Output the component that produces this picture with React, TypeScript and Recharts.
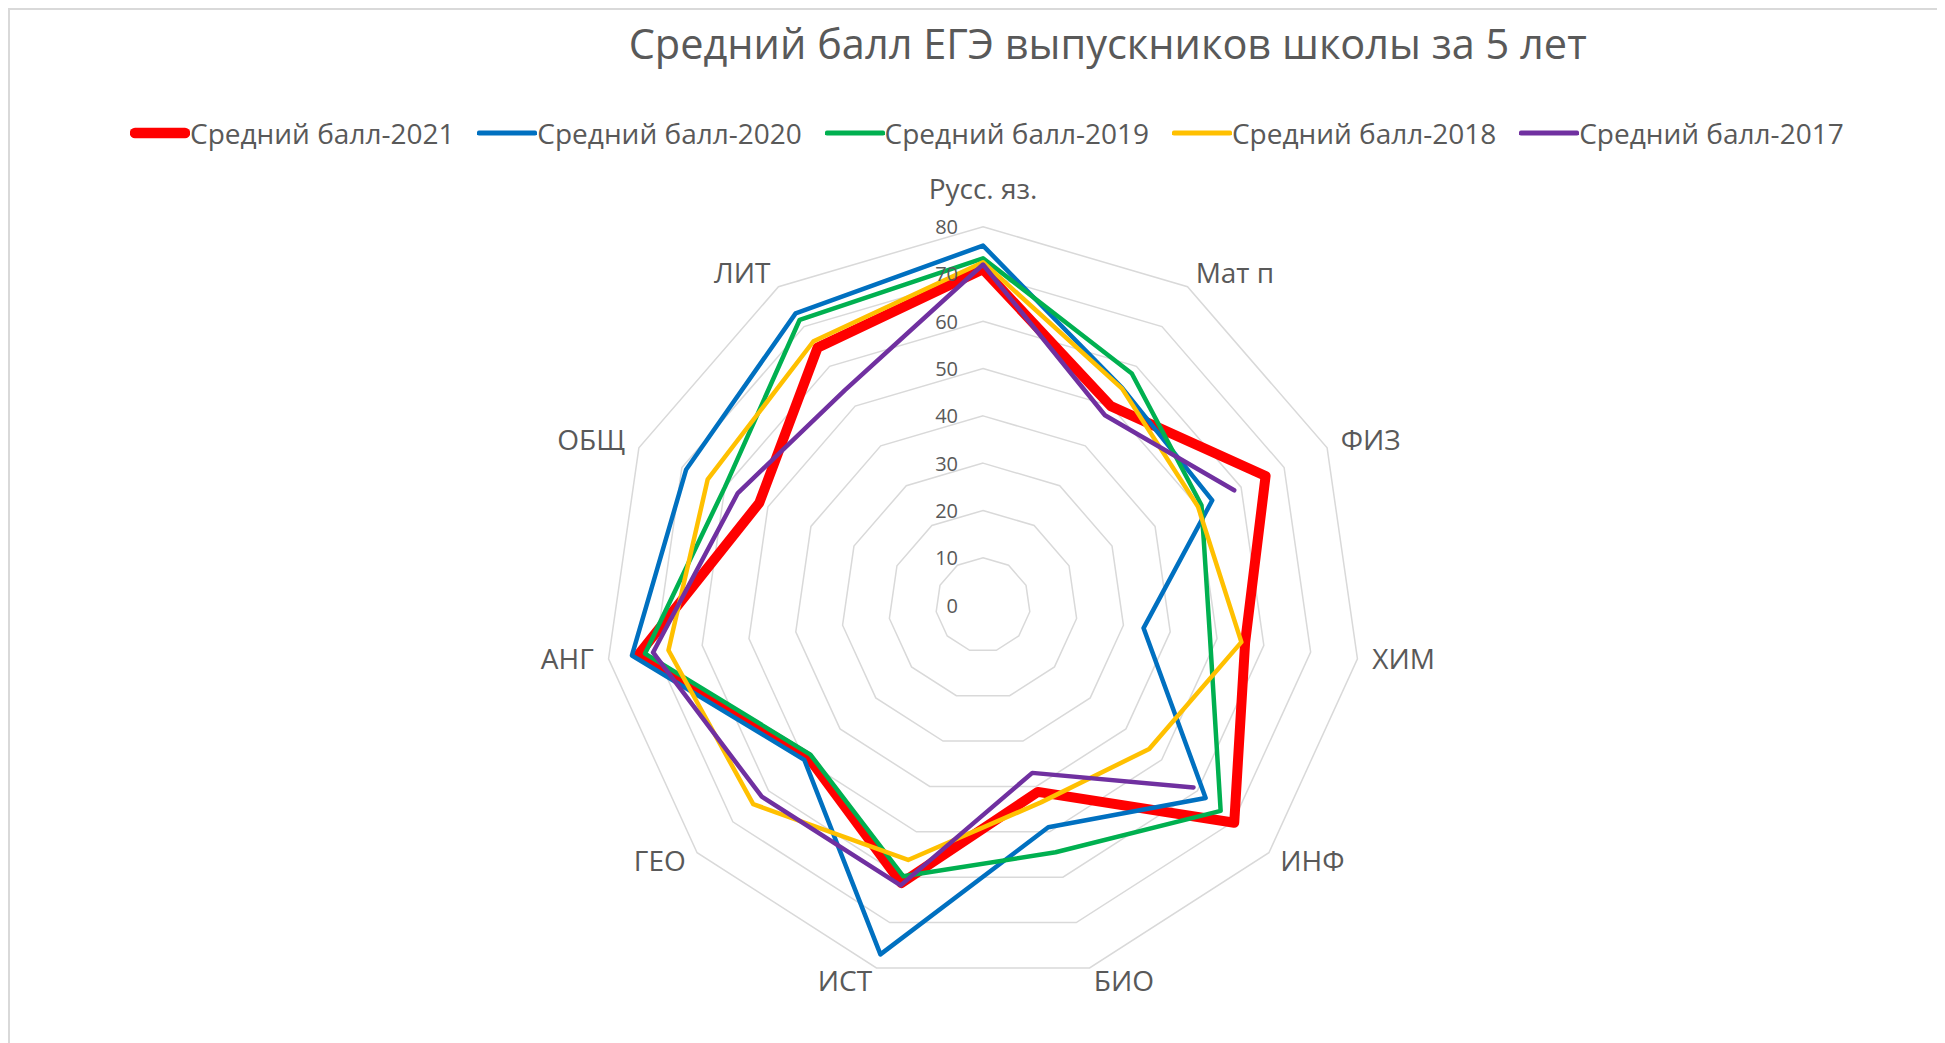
import React from 'react';
import { RadarChart, Radar, PolarGrid, PolarAngleAxis, PolarRadiusAxis, Legend } from 'recharts';

const subjects = ['Русс. яз.', 'Мат п', 'ФИЗ', 'ХИМ', 'ИНФ', 'БИО', 'ИСТ', 'ГЕО', 'АНГ', 'ОБЩ', 'ЛИТ'];
const score2021 = [71, 50, 65.7, 56, 70.3, 41.2, 61.3, 49, 73.6, 52, 64.7];
const score2020 = [76, 54.5, 53.3, 34.3, 62.3, 49, 77, 50, 75, 69, 73.3];
const score2019 = [73.3, 58.2, 50.8, 48.5, 66.5, 54.5, 59.8, 48.3, 72.2, 60, 71.7];
const score2018 = [72.5, 54.4, 50, 55.2, 46.5, 43.5, 56.2, 64.3, 67.2, 64, 66.3];
const score2017 = [72, 47.7, 58.4, null, 58.9, 37, 61.8, 61.9, 70.5, 57, 54];
const radiusTicks = [0, 10, 20, 30, 40, 50, 60, 70, 80];
const seriesKeys = ['s2021', 's2020', 's2019', 's2018', 's2017'];
const seriesNames = ['Средний балл-2021', 'Средний балл-2020', 'Средний балл-2019', 'Средний балл-2018', 'Средний балл-2017'];
const seriesColors = ['#FF0000', '#0070C0', '#00B050', '#FFC000', '#7030A0'];
const seriesWidths = [10, 4.5, 4.5, 4.5, 4.5];
const titleText = 'Средний балл ЕГЭ выпускников школы за 5 лет';

const seriesValues = [score2021, score2020, score2019, score2018, score2017];
const data = subjects.map((subject, i) => {
  const row: Record<string, any> = { subject };
  seriesKeys.forEach((k, j) => {
    row[k] = seriesValues[j][i];
  });
  return row;
});

const FONT = '"Open Sans", "Noto Sans", sans-serif';
const TEXT = '#595959';
const CHART_W = 1927;
const CHART_H = 1025;
const CX = 973;
const CY = 595;
const OUTER_R = 378.3;

const AngleTick = (props: any) => {
  const { x, y, payload } = props;
  const cx = typeof props.cx === 'number' ? props.cx : CX;
  const cy = typeof props.cy === 'number' ? props.cy : CY;
  const vx = x - cx;
  const vy = y - cy;
  const d = Math.hypot(vx, vy) || 1;
  const ux = vx / d;
  const uy = vy / d;
  const r0 = typeof props.radius === 'number' ? props.radius : d - 8;
  const R = r0 + 15;
  let px = cx + ux * R;
  let py = cy + uy * R - 2.5;
  let anchor: 'start' | 'end' | 'middle' = 'middle';
  if (ux > 1e-3) anchor = 'start';
  else if (ux < -1e-3) anchor = 'end';
  else py += uy < 0 ? -21 : 23;
  return (
    <text x={px} y={py} textAnchor={anchor} dominantBaseline="central" fill={TEXT} fontSize={28} fontFamily={FONT}>
      {payload.value}
    </text>
  );
};

const RadiusTick = (props: any) => {
  const { x, y, payload } = props;
  return (
    <text x={x - 25} y={y} textAnchor="end" dominantBaseline="central" fill={TEXT} fontSize={20} fontFamily={FONT}>
      {payload.value}
    </text>
  );
};

const makeShape = (j: number) => (props: any) => {
  const pts = props.points || [];
  const key = seriesKeys[j];
  const n = pts.length;
  const ok = (p: any) =>
    p && p.payload && p.payload[key] != null && Number.isFinite(p.x) && Number.isFinite(p.y);
  let d = '';
  const firstBad = pts.findIndex((p: any) => !ok(p));
  if (firstBad < 0) {
    pts.forEach((p: any, i: number) => {
      d += `${i === 0 ? 'M' : 'L'}${p.x},${p.y}`;
    });
    d += 'Z';
  } else {
    let pen = false;
    for (let s = 1; s <= n; s++) {
      const p = pts[(firstBad + s) % n];
      if (ok(p)) {
        d += `${pen ? 'L' : 'M'}${p.x},${p.y}`;
        pen = true;
      } else {
        pen = false;
      }
    }
  }
  return (
    <path
      d={d}
      fill="none"
      stroke={seriesColors[j]}
      strokeWidth={seriesWidths[j]}
      strokeLinejoin="round"
      strokeLinecap="round"
    />
  );
};

const LegendContent = () => {
  return (
    <div style={{ display: 'flex', flexDirection: 'row', alignItems: 'center' }}>
      {seriesNames.map((name, i) => {
        const w = seriesWidths[i];
        return (
          <div key={name} style={{ width: 347.3, display: 'flex', alignItems: 'center', flexShrink: 0 }}>
            <svg width={60} height={14} style={{ display: 'block' }}>
              <line x1={w / 2} y1={7} x2={60 - w / 2} y2={7} stroke={seriesColors[i]} strokeWidth={w + 0.5} strokeLinecap="round" />
            </svg>
            <span style={{ fontFamily: FONT, fontSize: 28, color: TEXT, lineHeight: '36px', whiteSpace: 'nowrap' }}>{name}</span>
          </div>
        );
      })}
    </div>
  );
};

export default function App() {
  return (
    <div
      style={{
        position: 'relative',
        width: 1937,
        height: 1035,
        boxSizing: 'border-box',
        borderTop: '2px solid #d9d9d9',
        borderLeft: '2px solid #d9d9d9',
        overflow: 'hidden',
        background: '#ffffff',
      }}
    >
      <div
        style={{
          position: 'absolute',
          left: 1097.7 - 700,
          width: 1400,
          top: 9,
          textAlign: 'center',
          fontFamily: FONT,
          fontSize: 41.5,
          lineHeight: '48px',
          color: TEXT,
          whiteSpace: 'nowrap',
        }}
      >
        {titleText}
      </div>
      <RadarChart
        width={CHART_W}
        height={CHART_H}
        data={data}
        cx={CX}
        cy={CY}
        outerRadius={OUTER_R}
        innerRadius={0}
        startAngle={90}
        endAngle={-270}
        margin={{ top: 0, right: 0, bottom: 0, left: 0 }}
      >
        <PolarGrid gridType="polygon" radialLines={false} stroke="#d9d9d9" strokeWidth={1.5} />
        <PolarAngleAxis dataKey="subject" tick={<AngleTick />} tickLine={false} axisLine={false} />
        <PolarRadiusAxis
          angle={90}
          domain={[0, 80]}
          ticks={radiusTicks}
          tickCount={9}
          tick={<RadiusTick />}
          axisLine={false}
          tickLine={false}
        />
        {seriesKeys.map((k, j) => (
          <Radar
            key={k}
            name={seriesNames[j]}
            dataKey={k}
            stroke={seriesColors[j]}
            strokeWidth={seriesWidths[j]}
            fill="none"
            fillOpacity={0}
            dot={false}
            activeDot={false}
            isAnimationActive={false}
            shape={makeShape(j)}
          />
        ))}
        <Legend
          layout="horizontal"
          verticalAlign="middle"
          align="center"
          content={<LegendContent />}
          wrapperStyle={{ top: 105, left: 120, width: 1800 }}
        />
      </RadarChart>
    </div>
  );
}
